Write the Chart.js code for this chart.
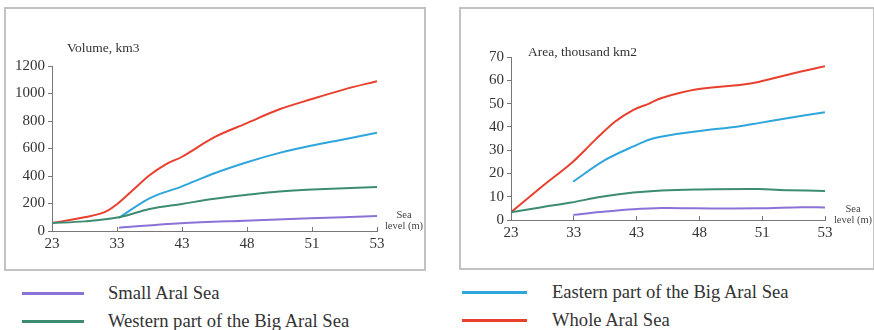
<!DOCTYPE html>
<html>
<head>
<meta charset="utf-8">
<script src="https://cdn.jsdelivr.net/npm/chart.js@4.4.1/dist/chart.umd.min.js"></script>
<style>
  html,body{margin:0;padding:0;background:#fff;}
  body{width:874px;height:330px;position:relative;overflow:hidden;font-family:"Liberation Serif","DejaVu Serif",serif;color:#333;}
  .box{position:absolute;border:2px solid #c2c2c2;box-sizing:border-box;}
  .cv{position:absolute;}
  .t{position:absolute;white-space:nowrap;line-height:1;}
  .sl{position:absolute;font-size:10.5px;line-height:11px;text-align:center;width:60px;color:#444;}
  .lg{position:absolute;height:3px;}
  .lt{position:absolute;font-size:18.6px;line-height:1;white-space:nowrap;color:#333;}
</style>
</head>
<body>
<div class="box" style="left:4px;top:7px;width:422px;height:264px;"></div>
<div class="box" style="left:459px;top:7px;width:416px;height:263px;"></div>
<div class="cv" style="left:0;top:0;width:440px;height:270px;"><canvas id="c1" width="440" height="270"></canvas></div>
<div class="cv" style="left:455px;top:0;width:419px;height:270px;"><canvas id="c2" width="419" height="270"></canvas></div>
<div class="t" style="left:67px;top:41px;font-size:13.5px;">Volume, km3</div>
<div class="t" style="left:528px;top:45px;font-size:13.5px;">Area, thousand km2</div>
<div class="sl" style="left:374px;top:209px;">Sea<br>level (m)</div>
<div class="sl" style="left:823px;top:203px;">Sea<br>level (m)</div>

<div class="lg" style="left:22px;top:292px;width:62px;background:#8b72d6;"></div>
<div class="lt" style="left:108px;top:284px;">Small Aral Sea</div>
<div class="lg" style="left:22px;top:320px;width:62px;background:#3d8c72;"></div>
<div class="lt" style="left:108px;top:312px;">Western part of the Big Aral Sea</div>
<div class="lg" style="left:462px;top:291px;width:65px;background:#2ea6dc;"></div>
<div class="lt" style="left:552px;top:283px;">Eastern part of the Big Aral Sea</div>
<div class="lg" style="left:462px;top:319px;width:65px;background:#e8402e;"></div>
<div class="lt" style="left:552px;top:311px;">Whole Aral Sea</div>

<script>
// Sea level tick labels (m), evenly spaced categories
const xLabels = ['23','33','43','48','51','53'];
const seriesNames = ['Small Aral Sea','Western part of the Big Aral Sea','Eastern part of the Big Aral Sea','Whole Aral Sea'];
const seriesColors = ['#8b72d6','#3d8c72','#2ea6dc','#e8402e'];

// Volume, km3 (x = position along the category axis)
const volSmallX   = [1.03, 1.98, 2.96, 3.97, 5];
const volSmall    = [24, 56, 75, 92, 109];
const volWesternX = [0, 0.5, 1.03, 1.5, 2.0, 2.5, 3.0, 3.5, 4.0, 5];
const volWestern  = [58, 70, 100, 160, 197, 234, 263, 288, 302, 320];
const volEasternX = [1.03, 1.5, 2.0, 2.5, 3.0, 3.5, 4.0, 4.5, 5];
const volEastern  = [95, 238, 325, 420, 500, 568, 622, 668, 715];
const volWholeX   = [0, 0.5, 0.8, 1.0, 1.25, 1.5, 1.75, 2.0, 2.5, 3.0, 3.5, 4.0, 4.5, 5];
const volWhole    = [58, 100, 135, 195, 300, 405, 485, 540, 683, 785, 885, 960, 1030, 1090];

// Area, thousand km2
const areaSmallX   = [0.99, 1.50, 1.95, 2.40, 2.94, 3.94, 4.63, 5];
const areaSmall    = [2.2, 3.6, 4.6, 5.1, 5.0, 5.0, 5.5, 5.4];
const areaWesternX = [0, 0.49, 0.96, 1.44, 1.95, 2.40, 2.94, 3.94, 4.42, 5];
const areaWestern  = [3.3, 5.5, 7.5, 10.0, 11.8, 12.7, 13.1, 13.3, 12.8, 12.5];
const areaEasternX = [0.99, 1.50, 1.95, 2.29, 2.94, 3.62, 3.94, 4.42, 5];
const areaEastern  = [16.5, 25.8, 31.6, 35.2, 38.0, 40.2, 41.6, 43.8, 46.3];
const areaWholeX   = [0, 0.49, 0.96, 1.18, 1.34, 1.66, 1.95, 2.19, 2.40, 2.94, 3.67, 3.94, 4.47, 5];
const areaWhole    = [3.3, 14.3, 24.4, 30.1, 34.4, 42.3, 47.3, 49.9, 52.4, 56.0, 58.1, 59.3, 62.8, 66.0];

const volTicks = [0, 200, 400, 600, 800, 1000, 1200];
const areaTicks = [0, 10, 20, 30, 40, 50, 60, 70];

function pts(xs, ys){ return xs.map((x,i)=>({x:x, y:ys[i]})); }

function makeChart(id, sets, yMax, yStep, geo){
  const datasets = sets.map((s,i)=>({
    label: seriesNames[i],
    data: pts(s[0], s[1]),
    borderColor: seriesColors[i],
    backgroundColor: seriesColors[i],
    borderWidth: 2,
    pointRadius: 0,
    tension: 0.35,
    fill: false
  }));
  return new Chart(document.getElementById(id), {
    type: 'line',
    data: { datasets },
    options: {
      responsive: false,
      animation: false,
      events: [],
      layout: { padding: { left: 0, right: geo.right, top: geo.top, bottom: 0 } },
      plugins: { legend: { display: false }, tooltip: { enabled: false } },
      scales: {
        x: {
          type: 'linear', min: 0, max: 5,
          border: { display: true, color: '#777', width: 1 },
          grid: { drawOnChartArea: false, drawTicks: true, tickLength: -4, color: '#777' },
          ticks: {
            stepSize: 1, padding: 8, color: '#333', maxRotation: 0, autoSkip: false,
            font: { family: 'Liberation Serif', size: 15 },
            callback: (v) => (Number.isInteger(v) ? xLabels[v] : '')
          },
          afterFit: (s) => { s.height = geo.xh; }
        },
        y: {
          min: 0, max: yMax,
          border: { display: true, color: '#777', width: 1 },
          grid: { drawOnChartArea: false, drawTicks: true, tickLength: 4, color: '#777' },
          ticks: { stepSize: yStep, padding: 3, color: '#333', font: { family: 'Liberation Serif', size: 15 },
            callback: (v) => String(v) },
          afterFit: (s) => { s.width = geo.yw; }
        }
      }
    }
  });
}

makeChart('c1', [[volSmallX, volSmall],[volWesternX, volWestern],[volEasternX, volEastern],[volWholeX, volWhole]],
  volTicks[volTicks.length-1], volTicks[1]-volTicks[0], { right: 63, top: 66, xh: 39, yw: 52 });
makeChart('c2', [[areaSmallX, areaSmall],[areaWesternX, areaWestern],[areaEasternX, areaEastern],[areaWholeX, areaWhole]],
  areaTicks[areaTicks.length-1], areaTicks[1]-areaTicks[0], { right: 49, top: 57, xh: 50, yw: 56 });
</script>
</body>
</html>
